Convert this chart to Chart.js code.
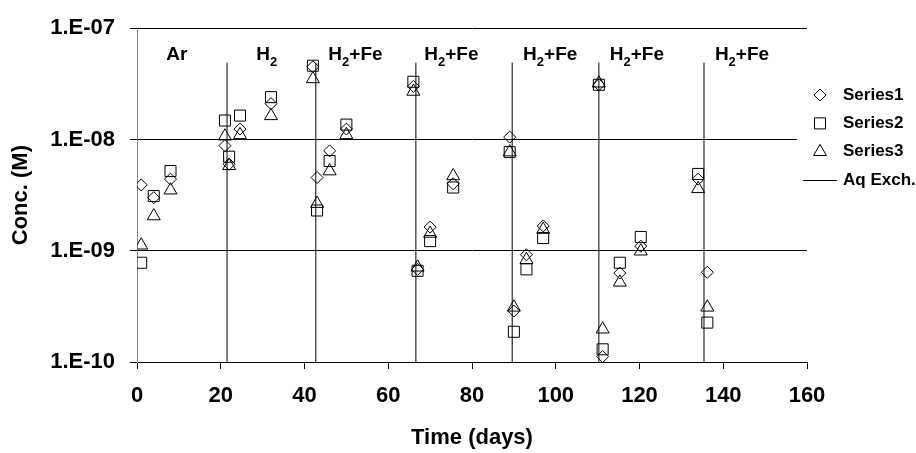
<!DOCTYPE html>
<html>
<head>
<meta charset="utf-8">
<script src="https://cdn.jsdelivr.net/npm/chart.js@4.4.0/dist/chart.umd.min.js"></script>
<style>
  html, body { margin: 0; padding: 0; background: #fff; }
  #contenedor { width: 916px; height: 453px; }
</style>
</head>
<body>
<div id="contenedor"><canvas id="grafico" width="916" height="453"></canvas></div>
<script>
// Datos (tiempo en dias, concentracion en M)
const days = [1, 4, 8, 21, 22, 24.6, 32, 42, 43, 46, 50, 66, 67, 70, 75.5, 89, 90, 93, 97, 110.3, 111.2, 115.3, 120.3, 134, 136.2];
const series1 = [3.9e-9, 3.0e-9, 4.4e-9, 8.8e-9, 6.0e-9, 1.24e-8, 2.1e-8, 4.5e-8, 4.55e-9, 7.9e-9, 1.24e-8, 3.0e-8, 6.8e-10, 1.63e-9, 4.0e-9, 1.05e-8, 2.87e-10, 9.2e-10, 1.67e-9, 3.1e-8, 1.12e-10, 6.3e-10, 1.1e-9, 4.4e-9, 6.4e-10];
const series2 = [7.8e-10, 3.1e-9, 5.2e-9, 1.48e-8, 7.0e-9, 1.64e-8, 2.4e-8, 4.6e-8, 2.3e-9, 6.4e-9, 1.36e-8, 3.3e-8, 6.6e-10, 1.22e-9, 3.7e-9, 7.7e-9, 1.87e-10, 6.8e-10, 1.3e-9, 3.1e-8, 1.3e-10, 7.8e-10, 1.33e-9, 4.9e-9, 2.26e-10];
const series3 = [1.12e-9, 2.05e-9, 3.5e-9, 1.07e-8, 5.8e-9, 1.1e-8, 1.63e-8, 3.5e-8, 2.65e-9, 5.2e-9, 1.1e-8, 2.7e-8, 7.1e-10, 1.43e-9, 4.7e-9, 7.7e-9, 3.1e-10, 8.3e-10, 1.55e-9, 3.2e-8, 1.97e-10, 5.2e-10, 9.9e-10, 3.6e-9, 3.1e-10];

// Intercambios acuosos (lineas verticales)
const aqDays = [21.5, 42.7, 66.6, 89.6, 110.3, 135.4];
const aqBottom = 1e-10;
const aqTop = 4.9e-8;

// Eje Y
const yTickValues = [1e-10, 1e-9, 1e-8, 1e-7];
const yTickLabels = ['1.E-10', '1.E-09', '1.E-08', '1.E-07'];

// Etiquetas de las fases
const phaseLabels = ['Ar', 'H2', 'H2+Fe', 'H2+Fe', 'H2+Fe', 'H2+Fe', 'H2+Fe'];
const phaseDays = [7.0, 28.5, 45.7, 68.6, 92.2, 112.9, 138.0];
const phaseConc = 5.2e-8;

const fuente = "'Liberation Sans', Arial, sans-serif";

const puntos = (valores) => days.map((d, i) => ({x: d, y: valores[i]}));

const lineasAq = [];
aqDays.forEach(d => {
  lineasAq.push({x: d, y: aqBottom}, {x: d, y: aqTop}, {x: d, y: null});
});

// Texto de las fases (con subindice para el 2)
const etiquetasFases = {
  id: 'etiquetasFases',
  afterDatasetsDraw(chart) {
    const {ctx, scales: {x, y}} = chart;
    ctx.save();
    ctx.fillStyle = '#000';
    ctx.textBaseline = 'alphabetic';
    ctx.textAlign = 'left';
    phaseLabels.forEach((texto, i) => {
      let px = x.getPixelForValue(phaseDays[i]);
      const py = y.getPixelForValue(phaseConc);
      // separar en trozos normales y subindices
      const trozos = texto.match(/\d+|\D+/g);
      trozos.forEach(t => {
        const sub = /\d/.test(t);
        ctx.font = 'bold ' + (sub ? 13 : 19) + 'px ' + fuente;
        ctx.fillText(t, px, sub ? py + 6 : py);
        px += ctx.measureText(t).width;
      });
    });
    ctx.restore();
  }
};

// Leyenda dibujada a mano (como la de Excel)
const leyenda = {
  id: 'leyenda',
  afterDraw(chart) {
    const {ctx} = chart;
    ctx.save();
    ctx.fillStyle = '#fff';
    ctx.fillRect(797, 80, 119, 115);
    chart.data.datasets.forEach((ds, i) => {
      const yy = 95 + i * 28.4;
      ctx.strokeStyle = '#000';
      ctx.lineWidth = 1;
      if (ds.showLine) {
        ctx.beginPath();
        ctx.moveTo(803, Math.round(yy) + 0.5);
        ctx.lineTo(837, Math.round(yy) + 0.5);
        ctx.stroke();
      } else {
        ctx.fillStyle = 'rgba(0,0,0,0)';
        Chart.helpers.drawPoint(ctx, {pointStyle: ds.pointStyle, radius: ds.pointRadius, rotation: 0, borderWidth: 1}, 820, yy);
      }
      ctx.fillStyle = '#000';
      ctx.font = 'bold 17px ' + fuente;
      ctx.textBaseline = 'middle';
      ctx.textAlign = 'left';
      ctx.fillText(ds.label, 843, yy);
    });
    ctx.restore();
  }
};

const estiloSerie = {
  showLine: false,
  borderColor: '#000',
  backgroundColor: 'rgba(0,0,0,0)',
  pointBorderWidth: 1,
  pointHoverRadius: 0
};

const ctx = document.getElementById('grafico').getContext('2d');

new Chart(ctx, {
  type: 'scatter',
  data: {
    datasets: [
      Object.assign({label: 'Series1', data: puntos(series1), pointStyle: 'rectRot', pointRadius: 6}, estiloSerie),
      Object.assign({label: 'Series2', data: puntos(series2), pointStyle: 'rect', pointRadius: 7.8}, estiloSerie),
      Object.assign({label: 'Series3', data: puntos(series3), pointStyle: 'triangle', pointRadius: 7.5}, estiloSerie),
      {
        label: 'Aq Exch.',
        data: lineasAq,
        showLine: true,
        spanGaps: false,
        borderColor: '#000',
        borderWidth: 1,
        pointRadius: 0,
        pointHoverRadius: 0
      }
    ]
  },
  options: {
    responsive: false,
    animation: false,
    devicePixelRatio: 1,
    layout: { padding: {top: 23, right: 109, left: 0, bottom: 0} },
    plugins: {
      legend: { display: false },
      tooltip: { enabled: false }
    },
    scales: {
      x: {
        type: 'linear',
        min: 0,
        max: 160,
        ticks: {
          stepSize: 20,
          color: '#000',
          padding: 14,
          font: {family: fuente, size: 22, weight: 'bold'}
        },
        grid: { drawOnChartArea: false, drawTicks: true, tickLength: 7, color: '#000' },
        border: { color: '#000', width: 1 },
        title: {
          display: true,
          text: 'Time (days)',
          color: '#000',
          font: {family: fuente, size: 22, weight: 'bold'},
          padding: {top: 0, bottom: 2}
        },
        afterFit: (s) => { s.height = 91; }
      },
      y: {
        type: 'logarithmic',
        min: 1e-10,
        max: 1e-7,
        afterBuildTicks: (s) => { s.ticks = yTickValues.map(v => ({value: v})); },
        ticks: {
          color: '#000',
          padding: 15,
          font: {family: fuente, size: 22, weight: 'bold'},
          callback: (v) => {
            const i = yTickValues.findIndex(t => Math.abs(Math.log10(t) - Math.log10(v)) < 1e-6);
            return i >= 0 ? yTickLabels[i] : '';
          }
        },
        grid: { color: '#000', drawTicks: true, tickLength: 7 },
        border: { color: '#808080', width: 1 },
        title: {
          display: true,
          text: 'Conc. (M)',
          color: '#000',
          font: {family: fuente, size: 22, weight: 'bold'},
          padding: {top: 8, bottom: 0}
        },
        afterFit: (s) => { s.width = 137; }
      }
    }
  },
  plugins: [etiquetasFases, leyenda]
});
</script>
</body>
</html>
